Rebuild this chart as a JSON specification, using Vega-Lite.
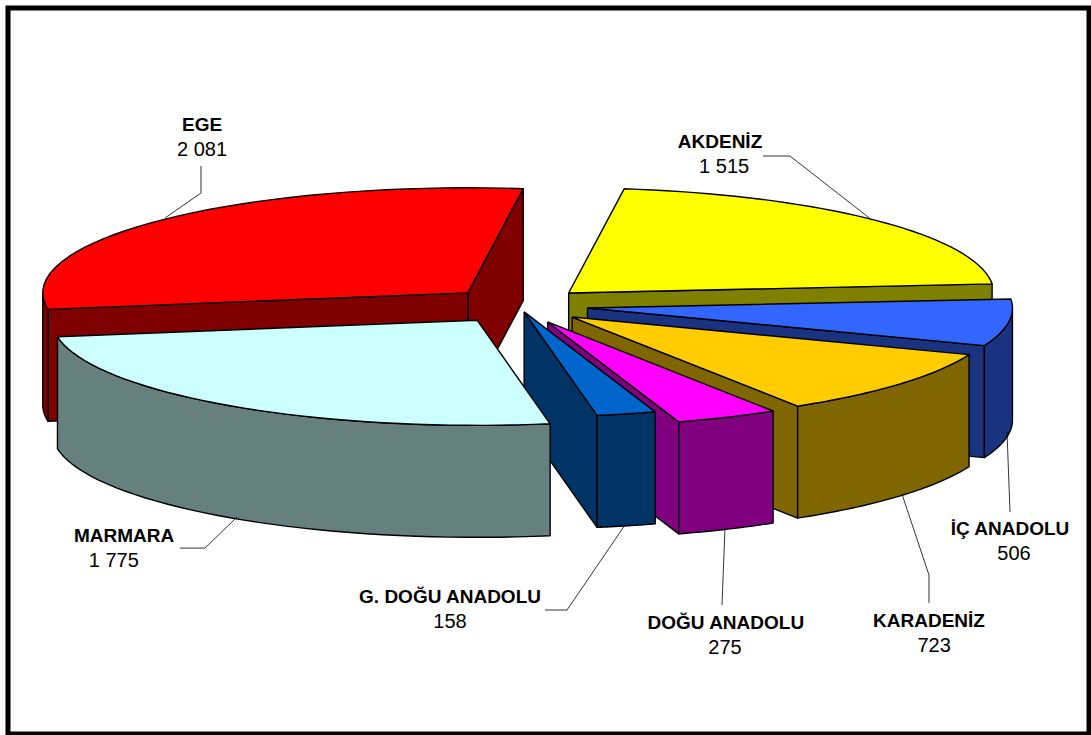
{
"$schema":"https://vega.github.io/schema/vega-lite/v6.json",
"width":1081,"height":726,
"autosize":"none",
"padding":{"left":8,"top":8,"right":2,"bottom":1},
"background":"white",
"view":{"stroke":"black","strokeWidth":5,"fill":"white"},
"data":{"values":[
{"region":"EGE","value":2081,"sweepOrder":1},
{"region":"AKDENİZ","value":1515,"sweepOrder":7},
{"region":"İÇ ANADOLU","value":506,"sweepOrder":6},
{"region":"KARADENİZ","value":723,"sweepOrder":5},
{"region":"DOĞU ANADOLU","value":275,"sweepOrder":4},
{"region":"G. DOĞU ANADOLU","value":158,"sweepOrder":3},
{"region":"MARMARA","value":1775,"sweepOrder":2}
]},
"transform":[
{"joinaggregate":[{"op":"sum","field":"value","as":"total"}]},
{"window":[{"op":"sum","field":"value","as":"cum"}],"sort":[{"field":"sweepOrder"}]},
{"calculate":"-82.5*PI/180-2*PI*datum.cum/datum.total","as":"a1"},
{"calculate":"datum.a1+2*PI*datum.value/datum.total","as":"a0"},
{"calculate":"(datum.a0+datum.a1)/2","as":"mid"},
{"calculate":"datum.region==='G. DOĞU ANADOLU'?0.06:0.165","as":"explode"}
],
"encoding":{
"x":{"type":"quantitative","scale":{"domain":[-1.2,1.3435],"nice":false,"zero":false},"axis":null},
"y":{"type":"quantitative","scale":{"domain":[3.895,-2.7045],"nice":false,"zero":false},"axis":null}
},
"layer":[
{
"transform":[
{"calculate":"['wall0','wall1','outer','top']","as":"face"},
{"flatten":["face"]},
{"calculate":"sequence(0,83)","as":"idx"},
{"flatten":["idx"]},
{"calculate":"min(datum.a0,-PI)","as":"f0"},
{"calculate":"max(datum.a1,-2*PI)","as":"f1"},
{"filter":"datum.face==='top'?datum.idx<=42:datum.face==='outer'?(datum.idx<=82&&datum.f0>datum.f1):datum.face==='wall0'?(datum.idx<=4&&cos(datum.a0)>0):(datum.idx<=4&&cos(datum.a1)<0)"},
{"calculate":"datum.face==='top'?((datum.idx===0||datum.idx===42)?0:1):(datum.face==='outer'?1:((datum.idx===1||datum.idx===2)?1:0))","as":"r"},
{"calculate":"datum.face==='outer'?((datum.idx>40&&datum.idx<82)?1:0):((datum.face==='top')?0:((datum.idx===2||datum.idx===3)?1:0))","as":"z"},
{"calculate":"datum.face==='top'?datum.a0+(datum.a1-datum.a0)*(datum.idx-1)/40:datum.face==='outer'?datum.f0+(datum.f1-datum.f0)*(datum.idx<=40?datum.idx/40:datum.idx===82?0:(81-datum.idx)/40):datum.face==='wall0'?datum.a0:datum.a1","as":"t"},
{"calculate":"datum.explode*cos(datum.mid)+datum.r*cos(datum.t)","as":"px"},
{"calculate":"datum.explode*sin(datum.mid)+datum.r*0.955*sin(datum.t)+datum.z*1.018","as":"py"},
{"calculate":"datum.face==='top'?datum.region:datum.region+' side'","as":"tone"},
{"calculate":"datum.region+' '+datum.face","as":"piece"}
],
"mark":{"type":"line","filled":true,"stroke":"black","strokeWidth":1.4,"strokeJoin":"round"},
"encoding":{
"x":{"field":"px","type":"quantitative"},
"y":{"field":"py","type":"quantitative"},
"order":{"field":"idx","type":"quantitative"},
"detail":{"field":"piece","type":"nominal"},
"color":{"field":"tone","type":"nominal","legend":null,"scale":{
"domain":["EGE","EGE side","MARMARA","MARMARA side","G. DOĞU ANADOLU","G. DOĞU ANADOLU side","DOĞU ANADOLU","DOĞU ANADOLU side","KARADENİZ","KARADENİZ side","İÇ ANADOLU","İÇ ANADOLU side","AKDENİZ","AKDENİZ side"],
"range":["#FF0000","#800000","#CCFFFF","#668080","#0066CC","#003366","#FF00FF","#800080","#FFCC00","#806600","#3366FF","#1A3380","#FFFF00","#808000"]}}
}
},
{
"transform":[
{"calculate":"{'EGE':[[-0.8306,-0.795,0],[-0.7459,-1.023,1],[-0.7459,-1.268,2]],'AKDENİZ':[[0.8329,-0.777,0],[0.64,-1.359,1],[0.5765,-1.359,2]],'İÇ ANADOLU':[[1.1506,1.15,0],[1.1576,1.877,1]],'KARADENİZ':[[0.9035,1.714,0],[0.967,2.45,1],[0.967,2.705,2]],'DOĞU ANADOLU':[[0.487,2.023,0],[0.48,2.723,1]],'G. DOĞU ANADOLU':[[0.2518,1.995,0],[0.1153,2.768,1],[0.0635,2.768,2]],'MARMARA':[[-0.6612,1.923,0],[-0.7365,2.205,1],[-0.7953,2.205,2]]}[datum.region]","as":"pt"},
{"flatten":["pt"]},
{"calculate":"datum.pt[0]","as":"px"},
{"calculate":"datum.pt[1]","as":"py"},
{"calculate":"datum.pt[2]","as":"step"}
],
"mark":{"type":"line","color":"black","strokeWidth":0.8},
"encoding":{
"x":{"field":"px","type":"quantitative"},
"y":{"field":"py","type":"quantitative"},
"order":{"field":"step","type":"quantitative"},
"detail":{"field":"region","type":"nominal"}
}
},
{
"transform":[
{"calculate":"{'EGE':[-0.7435,-1.64],'AKDENİZ':[0.4753,-1.485],'İÇ ANADOLU':[1.1576,2.033],'KARADENİZ':[0.967,2.869],'DOĞU ANADOLU':[0.489,2.887],'G. DOĞU ANADOLU':[-0.16,2.651],'MARMARA':[-0.927,2.096]}[datum.region]","as":"pos"},
{"calculate":"datum.pos[0]","as":"px"},
{"calculate":"datum.pos[1]","as":"py"}
],
"mark":{"type":"text","font":"Liberation Sans","fontSize":19,"fontWeight":"bold","color":"black","align":"center","baseline":"middle"},
"encoding":{
"x":{"field":"px","type":"quantitative"},
"y":{"field":"py","type":"quantitative"},
"text":{"field":"region","type":"nominal"}
}
},
{
"transform":[
{"calculate":"{'EGE':[-0.7435,-1.64],'AKDENİZ':[0.485,-1.485],'İÇ ANADOLU':[1.167,2.033],'KARADENİZ':[0.979,2.869],'DOĞU ANADOLU':[0.487,2.887],'G. DOĞU ANADOLU':[-0.16,2.651],'MARMARA':[-0.951,2.096]}[datum.region]","as":"pos"},
{"calculate":"datum.pos[0]","as":"px"},
{"calculate":"datum.pos[1]","as":"py"},
{"calculate":"replace(format(datum.value,','),',',' ')","as":"valueText"}
],
"mark":{"type":"text","font":"Liberation Sans","fontSize":20,"color":"black","align":"center","baseline":"middle","dy":25},
"encoding":{
"x":{"field":"px","type":"quantitative"},
"y":{"field":"py","type":"quantitative"},
"text":{"field":"valueText","type":"nominal"}
}
}
]
}
